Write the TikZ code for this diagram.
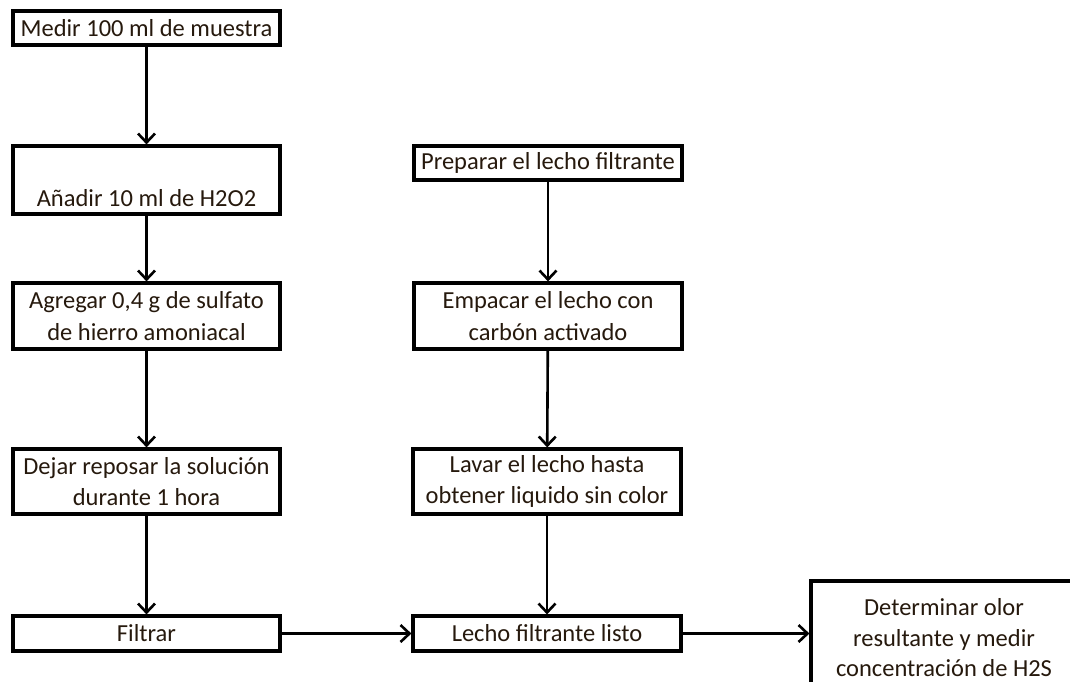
\documentclass[tikz,border=0pt]{standalone}
\usepackage{fontspec}
\setmainfont{Carlito}
\usetikzlibrary{arrows.meta}
\begin{document}
\begin{tikzpicture}[x=1pt,y=-1pt,
  stepbox/.style={draw=black,line width=3.2pt,rectangle,inner sep=1pt,align=center,
    font=\fontsize{24.5}{31.5}\selectfont,text=black!80!brown},
  flow/.style={draw=black,line width=2.6pt,-{Straight Barb[length=9pt,width=17pt,line width=2.6pt]}}]
\clip (0,0) rectangle (1070,681);
\useasboundingbox (0,0) rectangle (1070,681);
\fill[white] (0,0) rectangle (1070,681);
% left column
\node[stepbox,minimum width=267pt,minimum height=34pt] (b1) at (146.5,28) {Medir 100 ml de muestra};
\node[stepbox,minimum width=267pt,minimum height=68pt] (b2) at (146.5,180) {\strut\\Añadir 10 ml de H2O2};
\node[stepbox,minimum width=267pt,minimum height=66pt] (b3) at (146.5,316) {Agregar 0,4 g de sulfato\\de hierro amoniacal};
\node[stepbox,minimum width=267pt,minimum height=65pt] (b4) at (146.5,481.5) {Dejar reposar la solución\\durante 1 hora};
\node[stepbox,minimum width=267pt,minimum height=35pt] (b5) at (146.5,633.5) {Filtrar};
% middle column
\node[stepbox,minimum width=268pt,minimum height=34pt] (m1) at (548,163) {Preparar el lecho filtrante};
\node[stepbox,minimum width=268pt,minimum height=66pt] (m2) at (548,316) {Empacar el lecho con\\carbón activado};
\node[stepbox,minimum width=268pt,minimum height=65pt] (m3) at (547,481.5) {Lavar el lecho hasta\\obtener liquido sin color};
\node[stepbox,minimum width=268pt,minimum height=35pt] (m4) at (547,633.5) {Lecho filtrante listo};
% right box
\node[stepbox,minimum width=266pt,minimum height=114pt,font=\fontsize{24.5}{30.5}\selectfont] (r1) at (944,638) {Determinar olor\\resultante y medir\\concentración de H2S};
% connectors
\draw[flow] (b1) -- (b2);
\draw[flow] (b2) -- (b3);
\draw[flow] (b3) -- (b4);
\draw[flow] (b4) -- (b5);
\draw[flow] (m1) -- (m2);
\draw[flow] (m2) -- (m3);
\draw[flow] (m3) -- (m4);
\draw[flow] (b5) -- (m4);
\draw[flow] (m4.east) -- (m4.east -| r1.west);
\end{tikzpicture}
\end{document}
